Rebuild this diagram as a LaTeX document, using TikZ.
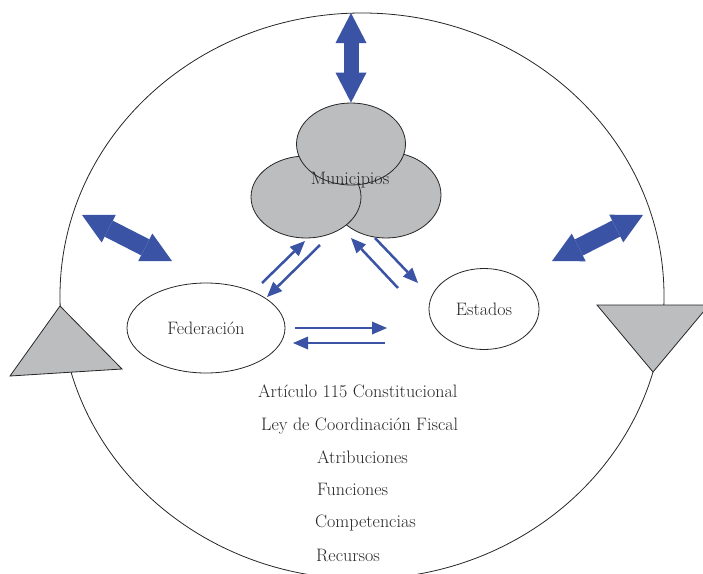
\documentclass[tikz,border=0pt]{standalone}
\usetikzlibrary{shapes.geometric,arrows.meta}

\definecolor{flowblue}{HTML}{3A53A4}
\definecolor{munigray}{HTML}{BCBDBF}
\definecolor{inkgray}{HTML}{262626}

\tikzset{
  cycleline/.style={draw=black!85, line width=0.8pt},
  cyclehead/.style={draw=black!85, fill=munigray, line width=0.8pt, line join=miter},
  muni/.style={ellipse, draw=black!85, fill=munigray, line width=0.8pt, inner sep=0pt},
  actor/.style={ellipse, draw=black!85, line width=0.8pt, inner sep=0pt,
    text=inkgray, font=\fontsize{18}{21}\selectfont},
  item/.style={anchor=west, inner sep=0pt, text=inkgray, font=\fontsize{18}{21}\selectfont},
  bigarrow/.style={flowblue, line width=15pt,
    {Triangle[length=30pt,width=31pt,line width=0pt]}-{Triangle[length=30pt,width=31pt,line width=0pt]}},
  flowarrow/.style={flowblue, line width=2.5pt,
    -{Triangle[length=15pt,width=13pt,line width=0pt]}},
}

\begin{document}
\begin{tikzpicture}[x=1pt, y=-1pt]
\useasboundingbox (0,0) rectangle (703,573);
\clip (0,0) rectangle (703,573);

% outer cycle
\draw[cycleline] (362,296) ellipse [x radius=302, y radius=283];
\filldraw[cyclehead] (60,306) -- (122,369) -- (10,376) -- cycle;
\filldraw[cyclehead] (597,305) -- (709,305) -- (653,372) -- cycle;

% municipios (three ellipses)
\node[muni, minimum width=110pt, minimum height=86pt] (munR) at (386,195) {};
\node[muni, minimum width=110pt, minimum height=82pt] (munL) at (306,197) {};
\node[muni, minimum width=109pt, minimum height=82pt] (munT) at (351,144) {};
\node[inner sep=0pt, text=inkgray, font=\fontsize{18}{21}\selectfont] (munTxt) at (350,180) {Municipios};

% federacion y estados
\node[actor, minimum width=158pt, minimum height=90pt] (fed) at (206,328) {Federación};
\node[actor, minimum width=110pt, minimum height=81pt] (est) at (484,309) {Estados};

% big double arrows
\coordinate (outT) at (351,13);
\coordinate (outL) at (82,215);
\coordinate (inL) at (172,261);
\coordinate (outR) at (643,215);
\coordinate (inR) at (552,261);
\draw[bigarrow] (outT) -- (munT.north);
\draw[bigarrow, line width=18pt] (outL) -- (inL);
\draw[bigarrow, line width=18pt] (outR) -- (inR);

% thin arrows
\coordinate (fm1) at (262,283);
\coordinate (mf1) at (305,241);
\coordinate (mf2) at (320,245);
\coordinate (fm2) at (267,297);
\coordinate (em1) at (398,288);
\coordinate (me1) at (351,238);
\coordinate (me2) at (375,238);
\coordinate (em2) at (418,283);
\coordinate (fe1) at (295,328);
\coordinate (ef1) at (387,328);
\coordinate (ef2) at (385,343);
\coordinate (fe2) at (293,343);
\draw[flowarrow] (fm1) -- (mf1);
\draw[flowarrow] (mf2) -- (fm2);
\draw[flowarrow] (em1) -- (me1);
\draw[flowarrow] (me2) -- (em2);
\draw[flowarrow] (fe1) -- (ef1);
\draw[flowarrow] (ef2) -- (fe2);

% texts
\node[item] (art) at (258,391) {Artículo 115 Constitucional};
\node[item] (ley) at (261,426) {Ley de Coordinación Fiscal};
\node[item] (atr) at (317,457) {Atribuciones};
\node[item] (fun) at (317,489) {Funciones};
\node[item] (comp) at (315,523) {Competencias};
\node[item] (rec) at (316,555) {Recursos};

\end{tikzpicture}
\end{document}
